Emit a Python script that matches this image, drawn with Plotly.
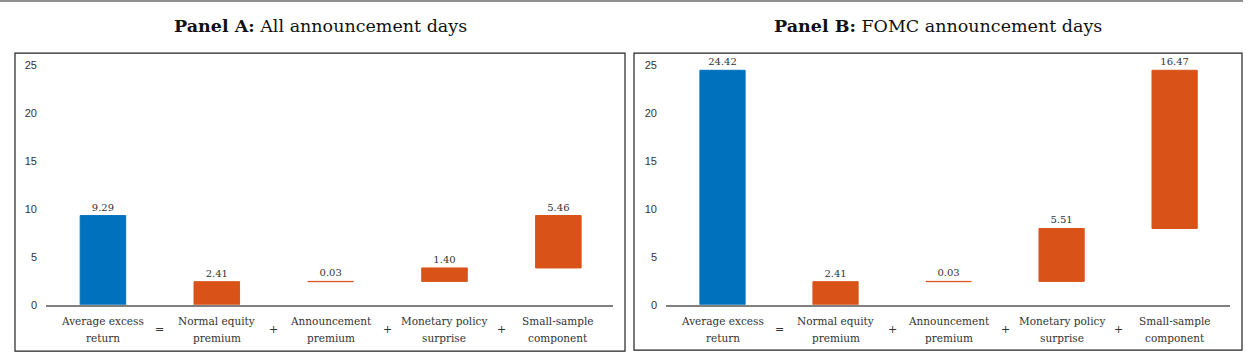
import plotly.graph_objects as go

categories = ["Average excess<br>return", "Normal equity<br>premium", "Announcement<br>premium",
              "Monetary policy<br>surprise", "Small-sample<br>component"]
operators = ["=", "+", "+", "+"]
panel_a_values = [9.29, 2.41, 0.03, 1.40, 5.46]
panel_b_values = [24.42, 2.41, 0.03, 5.51, 16.47]
panel_titles = ["<b>Panel A:</b> All announcement days", "<b>Panel B:</b> FOMC announcement days"]
y_ticks = [0, 5, 10, 15, 20, 25]

BLUE = "#0072BD"
ORANGE = "#D95319"
SERIF = "DejaVu Serif"
SANS = "Liberation Sans"
TXT = "#333333"

W, H = 1248, 360


def px_x(p):
    return p / W


def px_y(p):
    return 1 - p / H


def bases(vals):
    b = [0.0]
    run = 0.0
    for v in vals[1:]:
        b.append(run)
        run += v
    return b


fig = go.Figure()
panels = [panel_a_values, panel_b_values]
xdomains = [(46, 613), (666, 1230)]
boxes = [(15, 54, 625, 357), (634, 54, 1242, 356)]
ydom = (px_y(310), px_y(57))

for i, vals in enumerate(panels):
    xa = "x" if i == 0 else "x2"
    ya = "y" if i == 0 else "y2"
    b = bases(vals)
    colors = [BLUE] + [ORANGE] * (len(vals) - 1)
    fig.add_trace(go.Bar(
        x=list(range(len(vals))), y=vals, base=b,
        marker=dict(color=colors, line=dict(color=colors, width=1)),
        width=0.4,
        text=[f"{v:.2f}" for v in vals], textposition="outside",
        textfont=dict(family=SERIF, size=10, color=TXT),
        cliponaxis=False, xaxis=xa, yaxis=ya, showlegend=False, hoverinfo="skip",
    ))
    for j, cat in enumerate(categories):
        for k, line in enumerate(cat.split("<br>")):
            fig.add_annotation(x=j, y=px_y(326 + 17.5 * k), xref=xa, yref="paper", text=line,
                               showarrow=False, xanchor="center", yanchor="middle",
                               font=dict(family=SERIF, size=10.5, color=TXT))
    for j, op in enumerate(operators):
        fig.add_annotation(x=j + 0.5, y=px_y(335), xref=xa, yref="paper", text=op,
                           showarrow=False, xanchor="center", yanchor="middle",
                           font=dict(family=SERIF, size=11, color=TXT))
    x0, y0, x1, y1 = boxes[i]
    fig.add_shape(type="rect", xref="paper", yref="paper",
                  x0=px_x(x0), x1=px_x(x1), y0=px_y(y1), y1=px_y(y0),
                  line=dict(color="#222222", width=1.2))
    fig.add_annotation(x=px_x((x0 + x1) / 2), y=px_y(26), xref="paper", yref="paper",
                       text=panel_titles[i], showarrow=False, xanchor="center", yanchor="middle",
                       font=dict(family=SERIF, size=17.5, color="#111111"))

fig.add_shape(type="line", xref="paper", yref="paper", x0=0, x1=px_x(1243),
              y0=px_y(1), y1=px_y(1), line=dict(color="#222222", width=1.2))

xaxis_common = dict(
    tickmode="array", tickvals=list(range(len(categories))), showticklabels=False,
    showline=True, linecolor="#808080", linewidth=1.5, showgrid=False, zeroline=False,
    ticks="", fixedrange=True,
)
yaxis_common = dict(
    tickmode="array", tickvals=y_ticks, showgrid=False, zeroline=False, showline=False,
    ticks="", tickfont=dict(family=SANS, size=11, color=TXT), range=[0, 25.9],
    domain=list(ydom), ticklabelstandoff=8, fixedrange=True,
)

fig.update_layout(
    width=W, height=H,
    margin=dict(l=0, r=0, t=0, b=0),
    plot_bgcolor="white", paper_bgcolor="white",
    xaxis=dict(domain=[px_x(xdomains[0][0]), px_x(xdomains[0][1])], range=[-0.5, 4.48], anchor="y", **xaxis_common),
    yaxis=dict(anchor="x", **yaxis_common),
    xaxis2=dict(domain=[px_x(xdomains[1][0]), px_x(xdomains[1][1])], range=[-0.5, 4.49], anchor="y2", **xaxis_common),
    yaxis2=dict(anchor="x2", **yaxis_common),
)

css_fix = (
    "var s='margin:0;padding:0;overflow:hidden;height:360px;width:1248px;';"
    "document.documentElement.style.cssText=s;document.body.style.cssText=s;"
)
fig.write_html("out.html", post_script=css_fix, config={"displayModeBar": False})
